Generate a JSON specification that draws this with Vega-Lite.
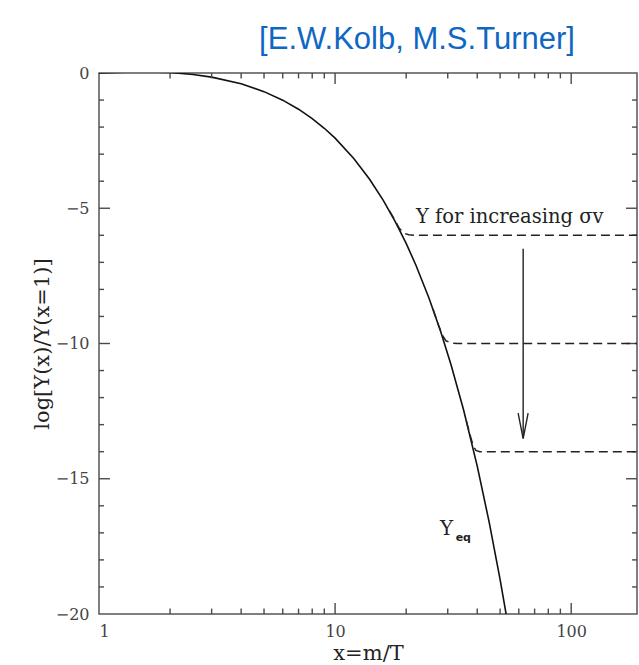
{
  "$schema": "https://vega.github.io/schema/vega-lite/v6.json",
  "width": 538,
  "height": 541,
  "autosize": "none",
  "padding": {"left": 99, "top": 73, "right": 2, "bottom": 51},
  "background": "white",
  "title": {
    "text": "[E.W.Kolb, M.S.Turner]",
    "font": "Liberation Sans",
    "fontSize": 31,
    "fontWeight": "normal",
    "color": "#0f67c2",
    "anchor": "middle",
    "dx": 49,
    "offset": 9
  },
  "config": {
    "view": {"stroke": "#555555", "strokeWidth": 1.5},
    "axis": {
      "grid": false,
      "domain": false,
      "ticks": false,
      "labelFont": "DejaVu Serif",
      "labelFontSize": 16,
      "labelColor": "#444444",
      "titleFont": "DejaVu Serif",
      "titleFontSize": 21,
      "titleFontWeight": "normal",
      "titleColor": "#222222"
    }
  },
  "datasets": {
    "eq": [
      {"x": 1, "y": 0}, {"x": 1.5, "y": 0.047}, {"x": 2, "y": 0.017},
      {"x": 2.5, "y": -0.055}, {"x": 3, "y": -0.153}, {"x": 4, "y": -0.4},
      {"x": 5, "y": -0.689}, {"x": 6, "y": -1.004}, {"x": 7, "y": -1.338},
      {"x": 8, "y": -1.686}, {"x": 9, "y": -2.043}, {"x": 10, "y": -2.409},
      {"x": 12, "y": -3.158}, {"x": 14, "y": -3.927}, {"x": 16, "y": -4.708},
      {"x": 18, "y": -5.5}, {"x": 20, "y": -6.3}, {"x": 22, "y": -7.107},
      {"x": 25, "y": -8.326}, {"x": 28, "y": -9.555}, {"x": 31, "y": -10.792},
      {"x": 35, "y": -12.45}, {"x": 40, "y": -14.534}, {"x": 45, "y": -16.629},
      {"x": 50, "y": -18.732}, {"x": 53, "y": -19.997}, {"x": 54, "y": -20.42}
    ],
    "dashed": [
      {"s": "a", "x": 17, "y": -5.1}, {"s": "a", "x": 18, "y": -5.47}, {"s": "a", "x": 18.7, "y": -5.74},
      {"s": "a", "x": 19.5, "y": -5.92}, {"s": "a", "x": 20.5, "y": -5.98}, {"s": "a", "x": 22, "y": -6.0},
      {"s": "a", "x": 190, "y": -6.0},
      {"s": "b", "x": 26, "y": -8.73}, {"s": "b", "x": 27.5, "y": -9.35}, {"s": "b", "x": 28.5, "y": -9.7},
      {"s": "b", "x": 29.5, "y": -9.9}, {"s": "b", "x": 31, "y": -9.98}, {"s": "b", "x": 33, "y": -10.0},
      {"s": "b", "x": 190, "y": -10.0},
      {"s": "c", "x": 36, "y": -12.87}, {"s": "c", "x": 37.5, "y": -13.45}, {"s": "c", "x": 38.5, "y": -13.8},
      {"s": "c", "x": 39.5, "y": -13.95}, {"s": "c", "x": 41, "y": -14.0}, {"s": "c", "x": 190, "y": -14.0}
    ],
    "arrow": [
      {"p": "shaft", "o": 1, "x": 62.6, "y": -6.5}, {"p": "shaft", "o": 2, "x": 62.6, "y": -13.5},
      {"p": "head", "o": 1, "x": 59.6, "y": -12.57}, {"p": "head", "o": 2, "x": 62.6, "y": -13.52},
      {"p": "head", "o": 3, "x": 65.7, "y": -12.57}
    ],
    "labels": [
      {"x": 22.0, "y": -5.55, "t": "Y for increasing σv"}
    ],
    "yeq": [{"x": 27.8, "y": -17.08, "t": "Y"}],
    "eqsub": [{"x": 32.4, "y": -17.3, "t": "eq"}],
    "ticks": [
      {"g": "b10", "x": 10, "y": -20}, {"g": "b10", "x": 10, "y": -19.59},
      {"g": "b100", "x": 100, "y": -20}, {"g": "b100", "x": 100, "y": -19.59},
      {"g": "t10", "x": 10, "y": 0}, {"g": "t10", "x": 10, "y": -0.41},
      {"g": "t100", "x": 100, "y": 0}, {"g": "t100", "x": 100, "y": -0.41},
      {"g": "b2", "x": 2, "y": -20}, {"g": "b2", "x": 2, "y": -19.8},
      {"g": "b3", "x": 3, "y": -20}, {"g": "b3", "x": 3, "y": -19.8},
      {"g": "b4", "x": 4, "y": -20}, {"g": "b4", "x": 4, "y": -19.8},
      {"g": "b5", "x": 5, "y": -20}, {"g": "b5", "x": 5, "y": -19.8},
      {"g": "b6", "x": 6, "y": -20}, {"g": "b6", "x": 6, "y": -19.8},
      {"g": "b7", "x": 7, "y": -20}, {"g": "b7", "x": 7, "y": -19.8},
      {"g": "b8", "x": 8, "y": -20}, {"g": "b8", "x": 8, "y": -19.8},
      {"g": "b9", "x": 9, "y": -20}, {"g": "b9", "x": 9, "y": -19.8},
      {"g": "b20", "x": 20, "y": -20}, {"g": "b20", "x": 20, "y": -19.8},
      {"g": "b30", "x": 30, "y": -20}, {"g": "b30", "x": 30, "y": -19.8},
      {"g": "b40", "x": 40, "y": -20}, {"g": "b40", "x": 40, "y": -19.8},
      {"g": "b50", "x": 50, "y": -20}, {"g": "b50", "x": 50, "y": -19.8},
      {"g": "b60", "x": 60, "y": -20}, {"g": "b60", "x": 60, "y": -19.8},
      {"g": "b70", "x": 70, "y": -20}, {"g": "b70", "x": 70, "y": -19.8},
      {"g": "b80", "x": 80, "y": -20}, {"g": "b80", "x": 80, "y": -19.8},
      {"g": "b90", "x": 90, "y": -20}, {"g": "b90", "x": 90, "y": -19.8},
      {"g": "t2", "x": 2, "y": 0}, {"g": "t2", "x": 2, "y": -0.2},
      {"g": "t3", "x": 3, "y": 0}, {"g": "t3", "x": 3, "y": -0.2},
      {"g": "t4", "x": 4, "y": 0}, {"g": "t4", "x": 4, "y": -0.2},
      {"g": "t5", "x": 5, "y": 0}, {"g": "t5", "x": 5, "y": -0.2},
      {"g": "t6", "x": 6, "y": 0}, {"g": "t6", "x": 6, "y": -0.2},
      {"g": "t7", "x": 7, "y": 0}, {"g": "t7", "x": 7, "y": -0.2},
      {"g": "t8", "x": 8, "y": 0}, {"g": "t8", "x": 8, "y": -0.2},
      {"g": "t9", "x": 9, "y": 0}, {"g": "t9", "x": 9, "y": -0.2},
      {"g": "t20", "x": 20, "y": 0}, {"g": "t20", "x": 20, "y": -0.2},
      {"g": "t30", "x": 30, "y": 0}, {"g": "t30", "x": 30, "y": -0.2},
      {"g": "t40", "x": 40, "y": 0}, {"g": "t40", "x": 40, "y": -0.2},
      {"g": "t50", "x": 50, "y": 0}, {"g": "t50", "x": 50, "y": -0.2},
      {"g": "t60", "x": 60, "y": 0}, {"g": "t60", "x": 60, "y": -0.2},
      {"g": "t70", "x": 70, "y": 0}, {"g": "t70", "x": 70, "y": -0.2},
      {"g": "t80", "x": 80, "y": 0}, {"g": "t80", "x": 80, "y": -0.2},
      {"g": "t90", "x": 90, "y": 0}, {"g": "t90", "x": 90, "y": -0.2},
      {"g": "l5", "x": 1, "y": -5}, {"g": "l5", "x": 1.113, "y": -5},
      {"g": "l10", "x": 1, "y": -10}, {"g": "l10", "x": 1.113, "y": -10},
      {"g": "l15", "x": 1, "y": -15}, {"g": "l15", "x": 1.113, "y": -15},
      {"g": "r5", "x": 190, "y": -5}, {"g": "r5", "x": 170.7, "y": -5},
      {"g": "r10", "x": 190, "y": -10}, {"g": "r10", "x": 170.7, "y": -10},
      {"g": "r15", "x": 190, "y": -15}, {"g": "r15", "x": 170.7, "y": -15},
      {"g": "l1", "x": 1, "y": -1}, {"g": "l1", "x": 1.05, "y": -1},
      {"g": "l2", "x": 1, "y": -2}, {"g": "l2", "x": 1.05, "y": -2},
      {"g": "l3", "x": 1, "y": -3}, {"g": "l3", "x": 1.05, "y": -3},
      {"g": "l4", "x": 1, "y": -4}, {"g": "l4", "x": 1.05, "y": -4},
      {"g": "l6", "x": 1, "y": -6}, {"g": "l6", "x": 1.05, "y": -6},
      {"g": "l7", "x": 1, "y": -7}, {"g": "l7", "x": 1.05, "y": -7},
      {"g": "l8", "x": 1, "y": -8}, {"g": "l8", "x": 1.05, "y": -8},
      {"g": "l9", "x": 1, "y": -9}, {"g": "l9", "x": 1.05, "y": -9},
      {"g": "l11", "x": 1, "y": -11}, {"g": "l11", "x": 1.05, "y": -11},
      {"g": "l12", "x": 1, "y": -12}, {"g": "l12", "x": 1.05, "y": -12},
      {"g": "l13", "x": 1, "y": -13}, {"g": "l13", "x": 1.05, "y": -13},
      {"g": "l14", "x": 1, "y": -14}, {"g": "l14", "x": 1.05, "y": -14},
      {"g": "l16", "x": 1, "y": -16}, {"g": "l16", "x": 1.05, "y": -16},
      {"g": "l17", "x": 1, "y": -17}, {"g": "l17", "x": 1.05, "y": -17},
      {"g": "l18", "x": 1, "y": -18}, {"g": "l18", "x": 1.05, "y": -18},
      {"g": "l19", "x": 1, "y": -19}, {"g": "l19", "x": 1.05, "y": -19},
      {"g": "r1", "x": 190, "y": -1}, {"g": "r1", "x": 181, "y": -1},
      {"g": "r2", "x": 190, "y": -2}, {"g": "r2", "x": 181, "y": -2},
      {"g": "r3", "x": 190, "y": -3}, {"g": "r3", "x": 181, "y": -3},
      {"g": "r4", "x": 190, "y": -4}, {"g": "r4", "x": 181, "y": -4},
      {"g": "r6", "x": 190, "y": -6}, {"g": "r6", "x": 181, "y": -6},
      {"g": "r7", "x": 190, "y": -7}, {"g": "r7", "x": 181, "y": -7},
      {"g": "r8", "x": 190, "y": -8}, {"g": "r8", "x": 181, "y": -8},
      {"g": "r9", "x": 190, "y": -9}, {"g": "r9", "x": 181, "y": -9},
      {"g": "r11", "x": 190, "y": -11}, {"g": "r11", "x": 181, "y": -11},
      {"g": "r12", "x": 190, "y": -12}, {"g": "r12", "x": 181, "y": -12},
      {"g": "r13", "x": 190, "y": -13}, {"g": "r13", "x": 181, "y": -13},
      {"g": "r14", "x": 190, "y": -14}, {"g": "r14", "x": 181, "y": -14},
      {"g": "r16", "x": 190, "y": -16}, {"g": "r16", "x": 181, "y": -16},
      {"g": "r17", "x": 190, "y": -17}, {"g": "r17", "x": 181, "y": -17},
      {"g": "r18", "x": 190, "y": -18}, {"g": "r18", "x": 181, "y": -18},
      {"g": "r19", "x": 190, "y": -19}, {"g": "r19", "x": 181, "y": -19}
    ]
  },
  "resolve": {"axis": {"x": "independent", "y": "independent"}},
  "layer": [
    {
      "data": {"name": "eq"},
      "mark": {"type": "line", "color": "#111111", "strokeWidth": 1.6, "clip": true},
      "encoding": {
        "x": {"field": "x", "type": "quantitative",
              "scale": {"type": "log", "domain": [1, 190], "nice": false},
              "axis": {"orient": "bottom", "values": [1, 10, 100], "format": "d", "labelPadding": 9,
                       "title": "x=m/T", "titleY": 39, "titleBaseline": "middle"}},
        "y": {"field": "y", "type": "quantitative",
              "scale": {"domain": [-20, 0], "nice": false, "zero": false},
              "axis": {"orient": "left", "values": [0, -5, -10, -15, -20], "labelPadding": 10,
                       "title": "log[Y(x)/Y(x=1)]", "titleX": -57, "titleBaseline": "middle"}}
      }
    },
    {
      "data": {"name": "ticks"},
      "mark": {"type": "line", "color": "#4a4a4a", "strokeWidth": 1.4},
      "encoding": {
        "detail": {"field": "g"},
        "x": {"field": "x", "type": "quantitative", "axis": null},
        "y": {"field": "y", "type": "quantitative", "axis": null}
      }
    },
    {
      "data": {"name": "dashed"},
      "mark": {"type": "line", "color": "#222222", "strokeWidth": 1.5, "strokeDash": [9, 5], "clip": true},
      "encoding": {
        "detail": {"field": "s"},
        "x": {"field": "x", "type": "quantitative", "axis": null},
        "y": {"field": "y", "type": "quantitative", "axis": null}
      }
    },
    {
      "data": {"name": "arrow"},
      "mark": {"type": "line", "color": "#222222", "strokeWidth": 1.4},
      "encoding": {
        "detail": {"field": "p"},
        "order": {"field": "o"},
        "x": {"field": "x", "type": "quantitative", "axis": null},
        "y": {"field": "y", "type": "quantitative", "axis": null}
      }
    },
    {
      "data": {"name": "labels"},
      "mark": {"type": "text", "font": "DejaVu Serif", "fontSize": 19.5, "align": "left", "baseline": "alphabetic", "color": "#222222"},
      "encoding": {
        "text": {"field": "t"},
        "x": {"field": "x", "type": "quantitative", "axis": null},
        "y": {"field": "y", "type": "quantitative", "axis": null}
      }
    },
    {
      "data": {"name": "yeq"},
      "mark": {"type": "text", "font": "DejaVu Serif", "fontSize": 20, "align": "left", "baseline": "alphabetic", "color": "#222222"},
      "encoding": {
        "text": {"field": "t"},
        "x": {"field": "x", "type": "quantitative", "axis": null},
        "y": {"field": "y", "type": "quantitative", "axis": null}
      }
    },
    {
      "data": {"name": "eqsub"},
      "mark": {"type": "text", "font": "DejaVu Sans", "fontSize": 11, "fontWeight": "bold", "align": "left", "baseline": "alphabetic", "color": "#222222"},
      "encoding": {
        "text": {"field": "t"},
        "x": {"field": "x", "type": "quantitative", "axis": null},
        "y": {"field": "y", "type": "quantitative", "axis": null}
      }
    }
  ]
}
